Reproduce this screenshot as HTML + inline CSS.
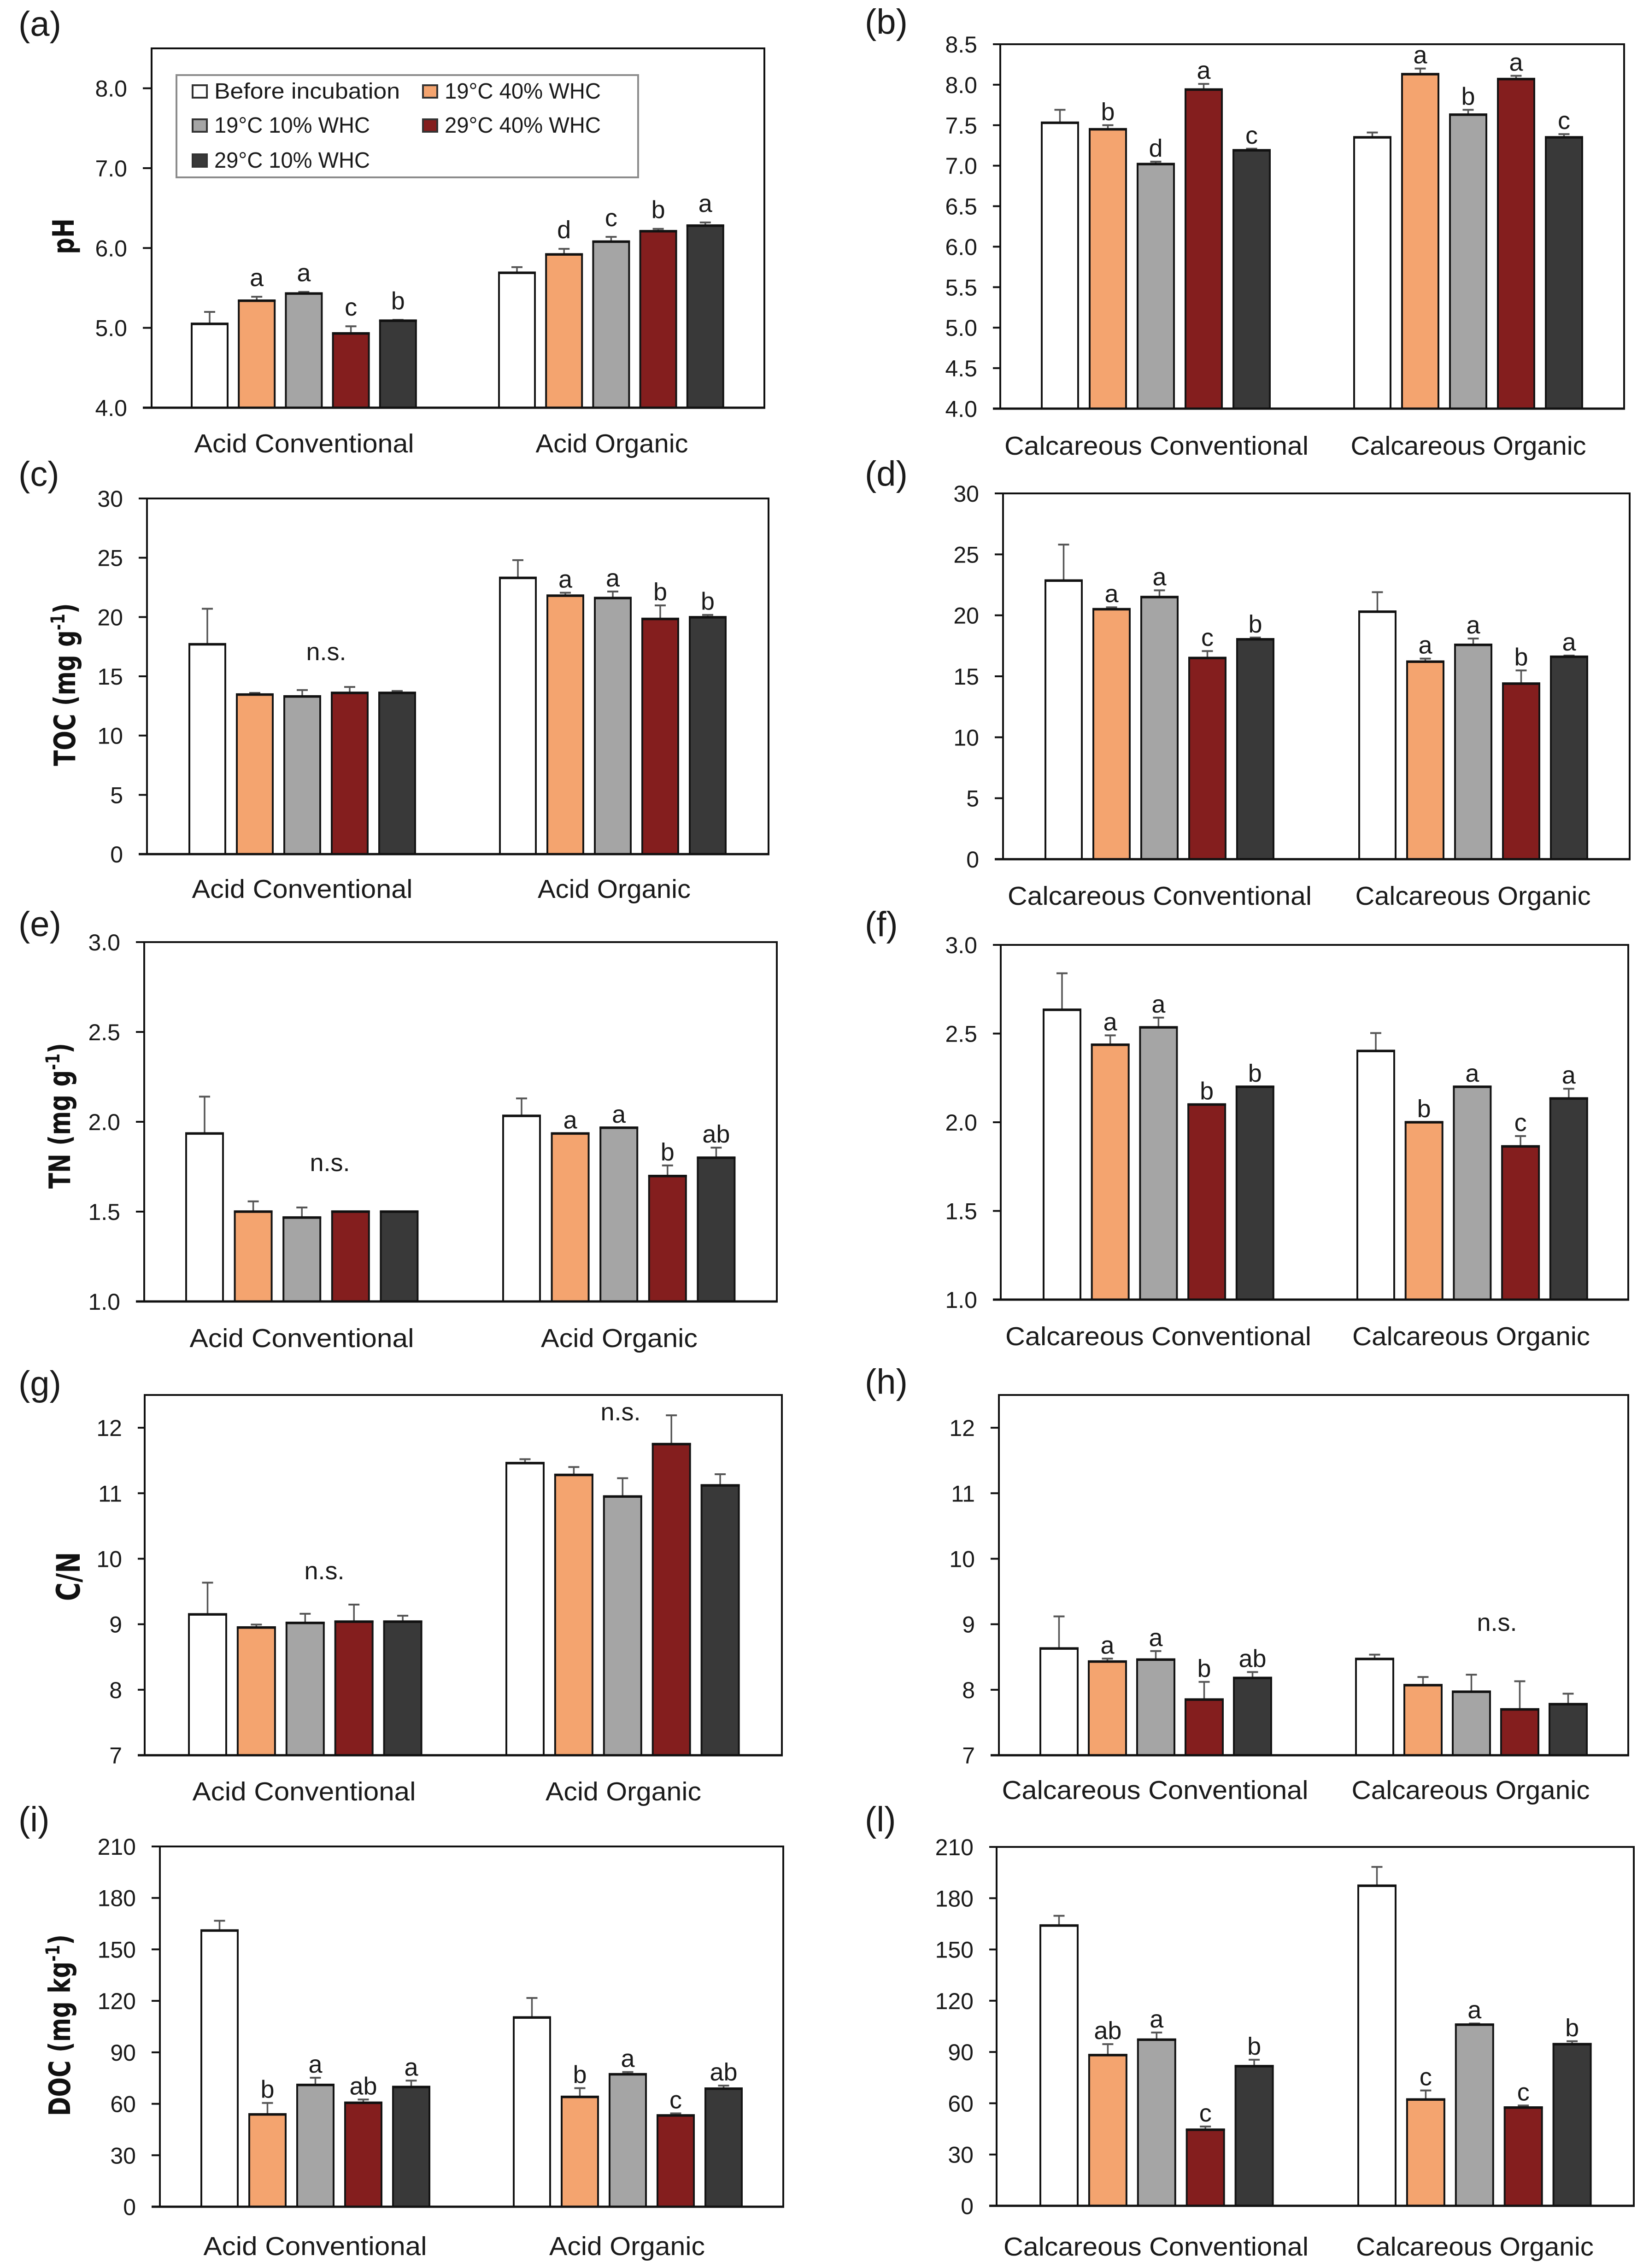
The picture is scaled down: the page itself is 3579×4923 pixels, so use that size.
<!DOCTYPE html>
<html lang="en">
<head>
<meta charset="utf-8">
<title>Soil properties before and after incubation</title>
<style>
html,body{margin:0;padding:0;background:#fff;}
svg{display:block;}
text{font-family:"Liberation Sans",sans-serif;fill:#1a1a1a;}
.ytitle{font-family:"DejaVu Sans","Liberation Sans",sans-serif;font-weight:bold;fill:#111;}
</style>
</head>
<body>
<svg id="figure" xmlns="http://www.w3.org/2000/svg" width="3579" height="4923" viewBox="0 0 3579 4923">
<rect x="0" y="0" width="3579" height="4923" fill="#fff"/>
<g id="panels"></g>
<g id="legend">
<rect x="383" y="163" width="1002" height="222" fill="#fff" stroke="#8c8c8c" stroke-width="4"/>
<g><rect x="418" y="185" width="31" height="27" fill="#fff" stroke="#333" stroke-width="4"/><text x="465" y="214" font-size="48" textLength="403" lengthAdjust="spacingAndGlyphs">Before incubation</text></g>
<g><rect x="918" y="185" width="31" height="27" fill="#f4a46f" stroke="#333" stroke-width="4"/><text x="965" y="214" font-size="48" textLength="339" lengthAdjust="spacingAndGlyphs">19°C 40% WHC</text></g>
<g><rect x="418" y="259" width="31" height="27" fill="#a5a5a5" stroke="#333" stroke-width="4"/><text x="465" y="288" font-size="48" textLength="338" lengthAdjust="spacingAndGlyphs">19°C 10% WHC</text></g>
<g><rect x="918" y="259" width="31" height="27" fill="#841e1e" stroke="#333" stroke-width="4"/><text x="965" y="288" font-size="48" textLength="339" lengthAdjust="spacingAndGlyphs">29°C 40% WHC</text></g>
<g><rect x="418" y="335" width="31" height="27" fill="#393939" stroke="#333" stroke-width="4"/><text x="465" y="364" font-size="48" textLength="338" lengthAdjust="spacingAndGlyphs">29°C 10% WHC</text></g>
</g>
</svg>
<script>
// ---- categories and series ----
const treatments = ['Before incubation', '19°C 40% WHC', '19°C 10% WHC', '29°C 40% WHC', '29°C 10% WHC'];
const acidCategories = ['Acid Conventional', 'Acid Organic'];
const calcareousCategories = ['Calcareous Conventional', 'Calcareous Organic'];

// ---- values: five treatments of first category, then five of second ----
const phAcidMeans = [5.05, 5.34, 5.43, 4.93, 5.09, 5.69, 5.92, 6.08, 6.21, 6.28];
const phAcidErrors = [0.15, 0.05, 0.02, 0.09, 0.01, 0.07, 0.07, 0.06, 0.03, 0.04];
const phAcidLetters = ['', 'a', 'a', 'c', 'b', '', 'd', 'c', 'b', 'a'];
const phAcidTicks = ['4.0', '5.0', '6.0', '7.0', '8.0'];

const phCalcMeans = [7.53, 7.45, 7.02, 7.94, 7.19, 7.35, 8.13, 7.63, 8.07, 7.35];
const phCalcErrors = [0.16, 0.05, 0.03, 0.07, 0.02, 0.06, 0.07, 0.06, 0.04, 0.04];
const phCalcLetters = ['', 'b', 'd', 'a', 'c', '', 'a', 'b', 'a', 'c'];
const phCalcTicks = ['4.0', '4.5', '5.0', '5.5', '6.0', '6.5', '7.0', '7.5', '8.0', '8.5'];

const tocAcidMeans = [17.7, 13.46, 13.3, 13.6, 13.6, 23.3, 21.8, 21.6, 19.84, 19.98];
const tocAcidErrors = [3.0, 0.14, 0.54, 0.5, 0.16, 1.5, 0.25, 0.55, 1.14, 0.2];
const tocAcidLetters = ['', '', '', '', '', '', 'a', 'a', 'b', 'b'];

const tocCalcMeans = [22.85, 20.5, 21.5, 16.5, 18.03, 20.3, 16.2, 17.58, 14.4, 16.6];
const tocCalcErrors = [2.95, 0.16, 0.55, 0.57, 0.15, 1.6, 0.25, 0.52, 1.08, 0.1];
const tocCalcLetters = ['', 'a', 'a', 'c', 'b', '', 'a', 'a', 'b', 'a'];
const tocTicks = ['0', '5', '10', '15', '20', '25', '30'];

const tnAcidMeans = [1.935, 1.5, 1.467, 1.5, 1.5, 2.033, 1.935, 1.967, 1.698, 1.8];
const tnAcidErrors = [0.205, 0.057, 0.056, 0, 0, 0.097, 0, 0, 0.059, 0.056];
const tnAcidLetters = ['', '', '', '', '', '', 'a', 'a', 'b', 'ab'];

const tnCalcMeans = [2.634, 2.437, 2.535, 2.1, 2.2, 2.402, 2.0, 2.2, 1.864, 2.134];
const tnCalcErrors = [0.206, 0.053, 0.055, 0, 0, 0.101, 0, 0, 0.058, 0.055];
const tnCalcLetters = ['', 'a', 'a', 'b', 'b', '', 'b', 'a', 'c', 'a'];
const tnTicks = ['1.0', '1.5', '2.0', '2.5', '3.0'];

const cnAcidMeans = [9.15, 8.95, 9.02, 9.04, 9.04, 11.46, 11.28, 10.95, 11.75, 11.12];
const cnAcidErrors = [0.485, 0.045, 0.14, 0.26, 0.09, 0.06, 0.12, 0.28, 0.44, 0.17];
const cnAcidLetters = ['', '', '', '', '', '', '', '', '', ''];

const cnCalcMeans = [8.63, 8.43, 8.46, 7.85, 8.18, 8.47, 8.07, 7.97, 7.7, 7.78];
const cnCalcErrors = [0.49, 0.045, 0.13, 0.27, 0.09, 0.066, 0.125, 0.26, 0.43, 0.16];
const cnCalcLetters = ['', 'a', 'a', 'b', 'ab', '', '', '', '', ''];
const cnTicks = ['7', '8', '9', '10', '11', '12'];

const docAcidMeans = [161, 53.8, 71, 60.6, 69.8, 110.3, 64, 77.2, 53.2, 68.8];
const docAcidErrors = [5.7, 6.7, 4.2, 1.9, 3.7, 11.4, 5.1, 1.3, 1.2, 1.8];
const docAcidLetters = ['', 'b', 'a', 'ab', 'a', '', 'b', 'a', 'c', 'ab'];

const docCalcMeans = [164, 88.2, 97.2, 44.5, 81.7, 187.3, 62.2, 106, 57.5, 94.6];
const docCalcErrors = [5.7, 6.4, 4.2, 1.9, 3.8, 11, 5.3, 0.7, 1.2, 1.7];
const docCalcLetters = ['', 'ab', 'a', 'c', 'b', '', 'c', 'a', 'c', 'b'];
const docTicks = ['0', '30', '60', '90', '120', '150', '180', '210'];

const barFills = ['#ffffff', '#f4a46f', '#a5a5a5', '#841e1e', '#393939'];

// ---- one entry per panel: data references plus frame layout ----
const panels = [
  {id:'a', means:phAcidMeans, errors:phAcidErrors, letters:phAcidLetters, ticks:phAcidTicks, cats:acidCategories, yMin:4, yMax:8.5,
   L:329, R:1659, T:105, B:885, tickL:310, g1:414, g2:1081, pitch:102.2, w:82, gap:23,
   tag:[40,78], catX:[660,1328], catW:[477,331], catY:982,
   title:{main:'pH', x:160, y:513, size:50}},
  {id:'b', means:phCalcMeans, errors:phCalcErrors, letters:phCalcLetters, ticks:phCalcTicks, cats:calcareousCategories, yMin:4, yMax:8.5,
   L:2171, R:3525, T:96, B:887, tickL:2155, g1:2259, g2:2937, pitch:104, w:83, gap:11,
   tag:[1877,73], catX:[2510,3187], catW:[660,511], catY:987},
  {id:'c', means:tocAcidMeans, errors:tocAcidErrors, letters:tocAcidLetters, ticks:tocTicks, cats:acidCategories, yMin:0, yMax:30,
   L:319, R:1668, T:1082, B:1854, tickL:301, g1:409, g2:1083, pitch:103, w:82, gap:11,
   tag:[40,1055], catX:[656,1333], catW:[479,332], catY:1949, notes:[[708,1433]],
   title:{main:'TOC (mg g', sup:'-1', x:163, y:1486, size:50}},
  {id:'d', means:tocCalcMeans, errors:tocCalcErrors, letters:tocCalcLetters, ticks:tocTicks, cats:calcareousCategories, yMin:0, yMax:30,
   L:2177, R:3537, T:1071, B:1865, tickL:2159, g1:2267, g2:2948, pitch:104, w:83, gap:11,
   tag:[1877,1054], catX:[2517,3197], catW:[660,511], catY:1964},
  {id:'e', means:tnAcidMeans, errors:tnAcidErrors, letters:tnAcidLetters, ticks:tnTicks, cats:acidCategories, yMin:1, yMax:3,
   L:313, R:1686, T:2045, B:2825, tickL:295, g1:402, g2:1090, pitch:105.6, w:84, gap:11,
   tag:[40,2032], catX:[655,1344], catW:[487,340], catY:2924, notes:[[716,2542]],
   title:{main:'TN (mg g', sup:'-1', x:152, y:2422, size:50}},
  {id:'f', means:tnCalcMeans, errors:tnCalcErrors, letters:tnCalcLetters, ticks:tnTicks, cats:calcareousCategories, yMin:1, yMax:3,
   L:2172, R:3534, T:2051, B:2821, tickL:2155, g1:2263, g2:2944, pitch:104.7, w:84, gap:11,
   tag:[1877,2032], catX:[2514,3193], catW:[664,516], catY:2920},
  {id:'g', means:cnAcidMeans, errors:cnAcidErrors, letters:cnAcidLetters, ticks:cnTicks, cats:acidCategories, yMin:7, yMax:12.5,
   L:314, R:1697, T:3028, B:3810, tickL:299, g1:408, g2:1097, pitch:105.9, w:85, gap:11,
   tag:[40,3029], catX:[660,1353], catW:[485,338], catY:3908, notes:[[704,3428],[1347,3083]],
   title:{main:'C/N', x:173, y:3422, size:55}},
  {id:'h', means:cnCalcMeans, errors:cnCalcErrors, letters:cnCalcLetters, ticks:cnTicks, cats:calcareousCategories, yMin:7, yMax:12.5,
   L:2168, R:3534, T:3028, B:3810, tickL:2150, g1:2256, g2:2941, pitch:105, w:85, gap:11,
   tag:[1877,3025], catX:[2507,3192], catW:[665,517], catY:3905, notes:[[3249,3540]]},
  {id:'i', means:docAcidMeans, errors:docAcidErrors, letters:docAcidLetters, ticks:docTicks, cats:acidCategories, yMin:0, yMax:210,
   L:347, R:1700, T:4008, B:4790, tickL:329, g1:435, g2:1113, pitch:104, w:83, gap:11,
   tag:[40,3975], catX:[684,1361], catW:[485,338], catY:4895,
   title:{main:'DOC (mg kg', sup:'-1', x:152, y:4396, size:50}},
  {id:'l', means:docCalcMeans, errors:docCalcErrors, letters:docCalcLetters, ticks:docTicks, cats:calcareousCategories, yMin:0, yMax:210,
   L:2163, R:3546, T:4009, B:4788, tickL:2147, g1:2256, g2:2946, pitch:105.9, w:85, gap:11,
   tag:[1877,3975], catX:[2509,3201], catW:[662,516], catY:4896}
];

const NS = 'http://www.w3.org/2000/svg';
function make(tag, attrs, parent, content) {
  const el = document.createElementNS(NS, tag);
  for (const k in attrs) el.setAttribute(k, attrs[k]);
  if (content !== undefined) el.textContent = content;
  parent.appendChild(el);
  return el;
}
function yScale(p) {
  return v => p.B - (v - p.yMin) / (p.yMax - p.yMin) * (p.B - p.T);
}
function xScale(p) {
  return (cat, t) => (cat === 0 ? p.g1 : p.g2) + t * p.pitch;
}

const root = document.getElementById('panels');

panels.forEach(p => {
  const y = yScale(p), x = xScale(p);
  const g = make('g', {}, root);
  
  

  const tag = make('text', {x: p.tag[0], y: p.tag[1], 'font-size': 76}, g, '(' + p.id + ')');
  
  

  const plot = make('rect', {x: p.L, y: p.T, width: p.R - p.L, height: p.B - p.T, fill: '#fff', stroke: '#111', 'stroke-width': 4}, g);
  
  

  // y ticks and tick labels
  p.ticks.forEach(label => {
    const v = parseFloat(label);
    const ty = y(v);
    const tick = make('line', {x1: p.tickL, x2: p.L, y1: ty, y2: ty, stroke: '#111', 'stroke-width': 4}, g);
    
    
    const tl = make('text', {x: p.tickL - 34, y: ty + 18, 'font-size': 50, 'text-anchor': 'end'}, g, label);
    
    
  });

  // bars, error bars and significance letters
  p.means.forEach((m, i) => {
    const cat = i < 5 ? 0 : 1;
    const t = i % 5;
    const left = x(cat, t);
    const cx = left + p.w / 2;
    const top = y(m);
    const errTop = y(m + p.errors[i]);
    const cap = make('line', {x1: cx - 12, x2: cx + 12, y1: errTop, y2: errTop, stroke: '#555', 'stroke-width': 4}, g);
    
    
    const stem = make('line', {x1: cx, x2: cx, y1: errTop, y2: top, stroke: '#555', 'stroke-width': 3.5}, g);
    
    
    const bar = make('rect', {x: left + 2, y: top, width: p.w - 4, height: y(p.yMin) - top, fill: barFills[t], stroke: '#141414', 'stroke-width': 4}, g);
    
    
    const cover = make('title', {}, bar, treatments[t] + ': ' + m);
    
    
    const topEdge = make('line', {x1: left, x2: left + p.w, y1: top, y2: top, stroke: '#111', 'stroke-width': 5.5}, g);
    
    
    if (p.letters[i]) {
      const letter = make('text', {x: cx, y: errTop - p.gap, 'font-size': 54, 'text-anchor': 'middle'}, g, p.letters[i]);
      
      
    }
  });

  // baseline redrawn above bars
  const base = make('line', {x1: p.tickL, x2: p.R + 2, y1: p.B, y2: p.B, stroke: '#111', 'stroke-width': 5}, g);
  
  

  // category labels
  p.cats.forEach((c, k) => {
    const cl = make('text', {x: p.catX[k], y: p.catY, 'font-size': 57, 'text-anchor': 'middle', textLength: p.catW[k], lengthAdjust: 'spacingAndGlyphs'}, g, c);
    
    
  });

  // n.s. notes
  (p.notes || []).forEach(n => {
    const ns = make('text', {x: n[0], y: n[1], 'font-size': 54, 'text-anchor': 'middle'}, g, 'n.s.');
    
    
  });

  // y-axis title (stretched perpendicular to the baseline, as in the reference)
  if (p.title) {
    const tt = make('text', {class: 'ytitle', 'font-size': p.title.size, 'text-anchor': 'middle',
      transform: 'translate(' + p.title.x + ',' + p.title.y + ') rotate(-90) scale(1,1.28)'}, g);
    
    
    make('tspan', {}, tt, p.title.main);
    if (p.title.sup) {
      make('tspan', {dy: -18, 'font-size': p.title.size * 0.65}, tt, p.title.sup);
      make('tspan', {dy: 18}, tt, ')');
    }
  }
});
</script>
</body>
</html>
